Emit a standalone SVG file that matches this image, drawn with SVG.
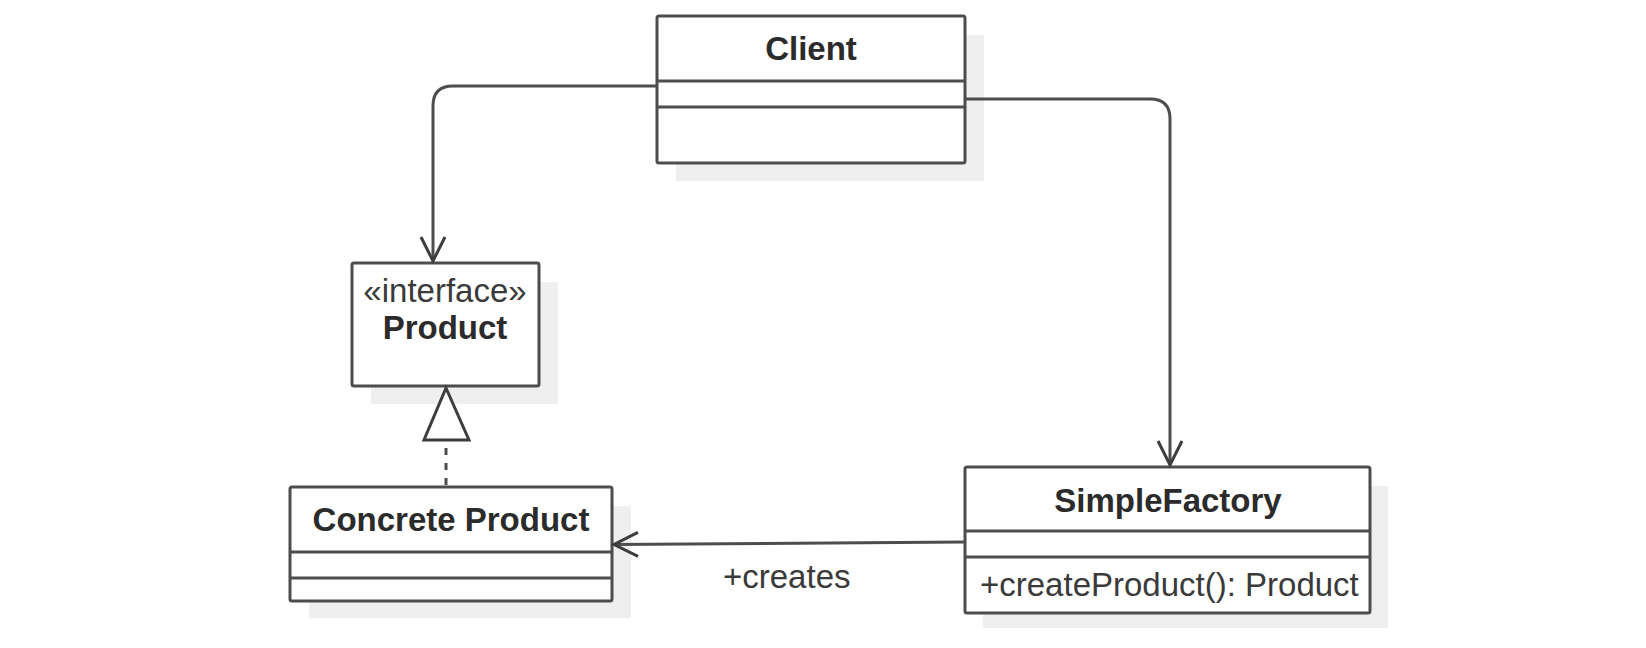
<svg xmlns="http://www.w3.org/2000/svg" width="1646" height="648" viewBox="0 0 1646 648">
<style>
.shadow{fill:#efefef;stroke:none}
.box{fill:#ffffff;stroke:#4d4d4d;stroke-width:3}
.div{stroke:#4d4d4d;stroke-width:3;fill:none}
.t{font-family:"Liberation Sans",Arial,sans-serif;font-size:33px;fill:#2b2b2b}
.b{font-weight:bold;text-anchor:middle}
.r{fill:#3a3a3a}
.edge{fill:none;stroke:#4d4d4d;stroke-width:3}
</style>
<defs>
<marker id="open" viewBox="0 0 26 26" refX="25" refY="13" markerWidth="26" markerHeight="26" markerUnits="userSpaceOnUse" orient="auto" overflow="visible">
<path d="M1,1 L25,13 L1,25" fill="none" stroke="#3d3d3d" stroke-width="3"/>
</marker>
</defs>
<rect width="1646" height="648" fill="#ffffff"/>
<g id="client">
<rect class="shadow" x="676" y="35" width="308" height="146"/>
<rect class="box" x="657" y="16" width="308" height="147" rx="2"/>
<line class="div" x1="657" y1="81" x2="965" y2="81"/>
<line class="div" x1="657" y1="107" x2="965" y2="107"/>
<text class="t b" x="811" y="60">Client</text>
</g>
<g id="product">
<rect class="shadow" x="371" y="282" width="187" height="122"/>
<rect class="box" x="352" y="263" width="187" height="123" rx="2"/>
<text class="t r" x="445" y="302" text-anchor="middle">«interface»</text>
<text class="t b" x="445" y="339">Product</text>
</g>
<g id="concrete-product">
<rect class="shadow" x="309" y="506" width="322" height="112"/>
<rect class="box" x="290" y="487" width="322" height="114" rx="2"/>
<line class="div" x1="290" y1="552" x2="612" y2="552"/>
<line class="div" x1="290" y1="578" x2="612" y2="578"/>
<text class="t b" x="451" y="531">Concrete Product</text>
</g>
<g id="simple-factory">
<rect class="shadow" x="983" y="486" width="405" height="142"/>
<rect class="box" x="965" y="467" width="405" height="146" rx="2"/>
<line class="div" x1="965" y1="531" x2="1370" y2="531"/>
<line class="div" x1="965" y1="557" x2="1370" y2="557"/>
<text class="t b" x="1168" y="512">SimpleFactory</text>
<text class="t r" x="980" y="596">+createProduct(): Product</text>
</g>
<g id="connectors">
<path class="edge" d="M657,86 H453 Q433,86 433,106 V261" marker-end="url(#open)"/>
<path class="edge" d="M965,99 H1150 Q1170,99 1170,119 V465" marker-end="url(#open)"/>
<path class="edge" d="M965,542 L614,544.5" marker-end="url(#open)"/>
<text class="t r" x="723" y="588">+creates</text>
<path class="edge" d="M446,448 V487" stroke-dasharray="7 8"/>
<path d="M446,388 L469,440 L424,440 Z" fill="#ffffff" stroke="#3d3d3d" stroke-width="3" stroke-linejoin="miter"/>
</g>
</svg>
